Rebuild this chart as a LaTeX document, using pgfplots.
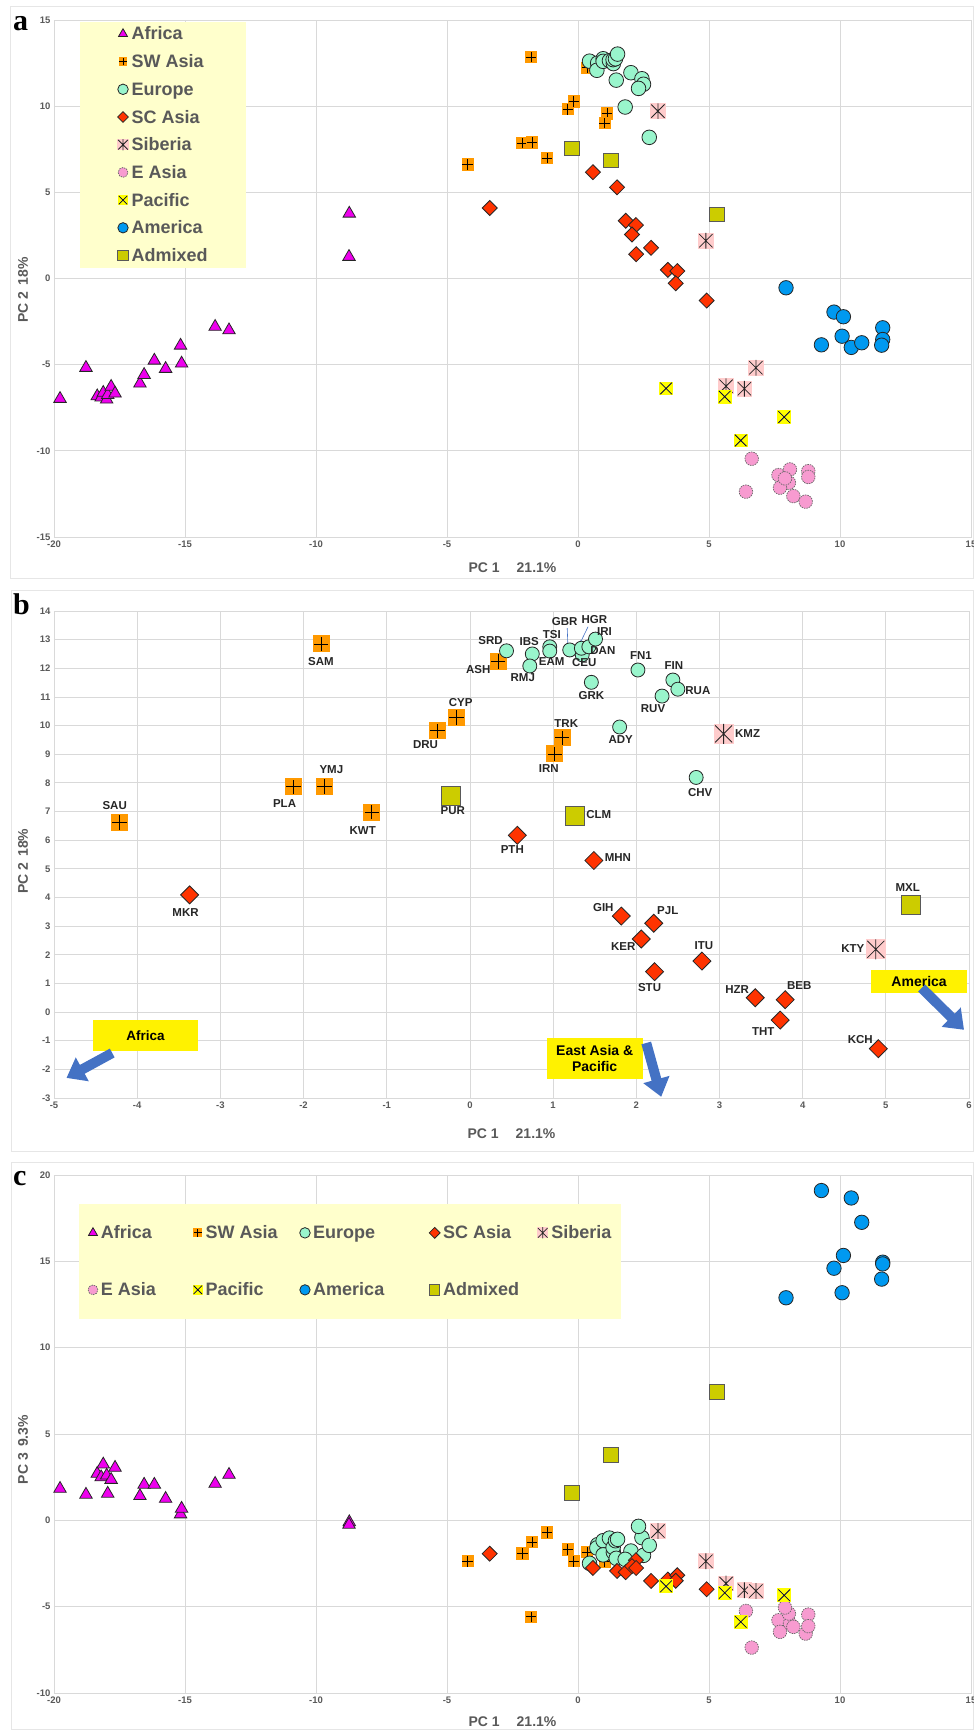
\documentclass[border=0pt]{standalone}
\usepackage{pgfplots}
\pgfplotsset{compat=1.18}
\usepackage{pgfplotstable}
\usepackage{fontspec}
\setmainfont{Liberation Sans}
\newfontfamily\serifbold{Liberation Serif}
\usetikzlibrary{arrows.meta}

\definecolor{cAfr}{HTML}{EE00EE}
\definecolor{cSWA}{HTML}{FF9900}
\definecolor{cEur}{HTML}{99F5CC}
\definecolor{cSCA}{HTML}{FF3300}
\definecolor{cSib}{HTML}{FFCCCC}
\definecolor{cEAs}{HTML}{F79BD0}
\definecolor{cPac}{HTML}{FFFF00}
\definecolor{cAme}{HTML}{0099F0}
\definecolor{cAdm}{HTML}{CCCC00}
\definecolor{cGrid}{HTML}{D9D9D9}
\definecolor{cText}{HTML}{595959}
\definecolor{cLeg}{HTML}{FFFFCC}
\definecolor{cArrow}{HTML}{4472C4}
\definecolor{cFrame}{HTML}{E6E6E6}

\pgfdeclareplotmark{sqplus}{%
  \pgfpathrectangle{\pgfqpoint{-\pgfplotmarksize}{-\pgfplotmarksize}}{\pgfqpoint{2\pgfplotmarksize}{2\pgfplotmarksize}}%
  \pgfusepathqfill
  \pgfpathmoveto{\pgfqpoint{-.85\pgfplotmarksize}{0pt}}%
  \pgfpathlineto{\pgfqpoint{.85\pgfplotmarksize}{0pt}}%
  \pgfpathmoveto{\pgfqpoint{0pt}{-.85\pgfplotmarksize}}%
  \pgfpathlineto{\pgfqpoint{0pt}{.85\pgfplotmarksize}}%
  \pgfusepathqstroke
}
\pgfdeclareplotmark{sqstar}{%
  \pgfpathrectangle{\pgfqpoint{-\pgfplotmarksize}{-\pgfplotmarksize}}{\pgfqpoint{2\pgfplotmarksize}{2\pgfplotmarksize}}%
  \pgfusepathqfill
  \pgfpathmoveto{\pgfqpoint{-.85\pgfplotmarksize}{-.85\pgfplotmarksize}}%
  \pgfpathlineto{\pgfqpoint{.85\pgfplotmarksize}{.85\pgfplotmarksize}}%
  \pgfpathmoveto{\pgfqpoint{-.85\pgfplotmarksize}{.85\pgfplotmarksize}}%
  \pgfpathlineto{\pgfqpoint{.85\pgfplotmarksize}{-.85\pgfplotmarksize}}%
  \pgfpathmoveto{\pgfqpoint{0pt}{-\pgfplotmarksize}}%
  \pgfpathlineto{\pgfqpoint{0pt}{\pgfplotmarksize}}%
  \pgfusepathqstroke
}
\pgfdeclareplotmark{sqx}{%
  \pgfpathrectangle{\pgfqpoint{-\pgfplotmarksize}{-\pgfplotmarksize}}{\pgfqpoint{2\pgfplotmarksize}{2\pgfplotmarksize}}%
  \pgfusepathqfill
  \pgfpathmoveto{\pgfqpoint{-.85\pgfplotmarksize}{-.85\pgfplotmarksize}}%
  \pgfpathlineto{\pgfqpoint{.85\pgfplotmarksize}{.85\pgfplotmarksize}}%
  \pgfpathmoveto{\pgfqpoint{-.85\pgfplotmarksize}{.85\pgfplotmarksize}}%
  \pgfpathlineto{\pgfqpoint{.85\pgfplotmarksize}{-.85\pgfplotmarksize}}%
  \pgfusepathqstroke
}
\pgfdeclareplotmark{rdiam}{%
  \pgfpathmoveto{\pgfqpoint{0pt}{\pgfplotmarksize}}%
  \pgfpathlineto{\pgfqpoint{\pgfplotmarksize}{0pt}}%
  \pgfpathlineto{\pgfqpoint{0pt}{-\pgfplotmarksize}}%
  \pgfpathlineto{\pgfqpoint{-\pgfplotmarksize}{0pt}}%
  \pgfpathclose
  \pgfusepathqfillstroke
}

\newcommand{\labfont}{\fontsize{14}{16}\selectfont\bfseries}

\pgfplotsset{
  pca/.style={scale only axis, grid=major,
    major grid style={draw=cGrid, line width=0.8pt},
    axis line style={draw=cGrid, line width=0.8pt},
    major tick length=0pt,
    tick label style={font=\fontsize{9.5}{11}\selectfont\bfseries, text=cText},
    /pgf/number format/assume math mode=true,
    legend cell align=left},
  gAfr/.style={only marks, mark=triangle*, mark size=#1, draw=black!85, fill=cAfr, line width=0.8pt},
  gSWA/.style={only marks, mark=sqplus, mark size=#1, draw=black, fill=cSWA, line width=0.8pt},
  gEur/.style={only marks, mark=*, mark size=#1, draw=black!85, fill=cEur, line width=0.8pt},
  gSCA/.style={only marks, mark=rdiam, mark size=#1, draw=black!85, fill=cSCA, line width=0.8pt},
  gSib/.style={only marks, mark=sqstar, mark size=#1, draw=black!85, fill=cSib, line width=0.8pt},
  gEAs/.style={only marks, mark=*, mark size=#1, draw=black!60, fill=cEAs, line width=0.7pt, dash pattern=on 1.5pt off 1pt},
  gPac/.style={only marks, mark=sqx, mark size=#1, draw=black!75!blue, fill=cPac, line width=0.8pt},
  gAme/.style={only marks, mark=*, mark size=#1, draw=black!85, fill=cAme, line width=0.8pt},
  gAdm/.style={only marks, mark=square*, mark size=#1, draw=black!65, fill=cAdm, line width=0.8pt},
  lab/.style={nodes near coords, point meta=explicit symbolic,
    visualization depends on={\thisrow{dx}\as\ldx},
    visualization depends on={\thisrow{dy}\as\ldy},
    every node near coord/.style={anchor=center, xshift=\ldx pt, yshift=\ldy pt,
      font=\fontsize{11.5}{13}\selectfont\bfseries, text=black!85, inner sep=0pt}},
}

% ---------- data: PC1, PC2, PC3 ----------
\pgfplotstableread{
x y2 y3
-19.77 -6.98 1.83
-18.78 -5.18 1.49
-18.35 -6.83 2.70
-18.20 -6.90 2.50
-18.12 -6.63 3.24
-17.99 -7.02 2.60
-17.95 -6.75 1.55
-17.82 -6.28 2.35
-17.67 -6.67 3.05
-16.72 -6.09 1.41
-16.56 -5.59 2.07
-16.17 -4.76 2.07
-15.74 -5.24 1.25
-15.17 -3.89 0.35
-15.13 -4.93 0.68
-13.85 -2.80 2.12
-13.32 -3.00 2.64
-8.73 3.77 -0.10
-8.74 1.26 -0.25
}\tAfr

\pgfplotstableread{
name x y2 y3 dx dy
SAU -4.21 6.62 -2.37 -5 17
SAM -1.79 12.85 -5.59 0 -18
PLA -2.12 7.86 -1.93 -9 -17
YMJ -1.75 7.88 -1.25 7 17
KWT -1.18 6.98 -0.71 -9 -18
DRU -0.39 9.82 -1.68 -12 -14
CYP -0.16 10.28 -2.37 4 15
ASH 0.34 12.23 -1.83 -20 -8
TRK 1.11 9.57 -2.10 4 14
IRN 1.02 9.01 -2.40 -6 -15
}\tSWA

\pgfplotstableread{
name x y2 y3 dx dy
SRD 0.44 12.61 -2.49 -16 10
IBS 0.75 12.50 -1.41 -3 12
RMJ 0.72 12.08 -1.60 -7 -12
TSI 0.96 12.75 -1.18 2 12
EAM 0.96 12.60 -2.00 2 -10
GBR 1.20 12.64 -1.03 -5 28
CEU 1.35 12.47 -1.85 2 -8
HGR 1.34 12.70 -1.57 13 29
DAN 1.43 12.75 -1.18 14 -4
IRI 1.51 13.02 -1.10 9 8
FN1 2.02 11.94 -1.78 3 14
FIN 2.44 11.59 -1.00 1 14
RUA 2.50 11.27 -2.03 20 -1
RUV 2.31 11.03 -0.35 -9 -13
GRK 1.46 11.51 -2.20 0 -13
ADY 1.80 9.95 -2.26 1 -13
CHV 2.72 8.19 -1.45 4 -15
}\tEur

\pgfplotstableread{
name x y2 y3 dx dy
MKR -3.37 4.09 -1.93 -4 -18
PTH 0.57 6.17 -2.76 -5 -14
MHN 1.49 5.29 -2.93 24 3
GIH 1.82 3.35 -3.00 -18 9
PJL 2.21 3.10 -2.31 14 13
KER 2.06 2.55 -2.65 -18 -8
STU 2.22 1.41 -2.76 -5 -16
ITU 2.79 1.78 -3.51 2 15
HZR 3.43 0.50 -3.43 -18 8
BEB 3.79 0.43 -3.18 14 14
THT 3.73 -0.28 -3.50 -17 -11
KCH 4.91 -1.28 -3.99 -18 9
}\tSCA

\pgfplotstableread{
name x y2 y3 dx dy
KMZ 3.05 9.71 -0.62 24 0
KTY 4.88 2.19 -2.37 -23 1
S1 5.65 -6.25 -3.66 0 0
S2 6.35 -6.40 -4.05 0 0
S3 6.79 -5.18 -4.09 0 0
}\tSib

\pgfplotstableread{
x y2 y3
6.63 -10.46 -7.37
6.41 -12.37 -5.25
7.65 -11.41 -5.79
8.09 -11.08 -5.98
8.05 -11.85 -5.40
7.71 -12.14 -6.46
8.22 -12.63 -6.17
8.69 -12.95 -6.56
8.79 -11.18 -5.46
8.79 -11.52 -6.13
7.90 -11.60 -5.05
}\tEAs

\pgfplotstableread{
x y2 y3
3.36 -6.38 -3.82
5.60 -6.86 -4.20
7.87 -8.04 -4.34
6.21 -9.40 -5.88
}\tPac

\pgfplotstableread{
x y2 y3
7.94 -0.54 12.89
9.29 -3.85 19.10
9.77 -1.95 14.60
10.13 -2.22 15.34
10.08 -3.35 13.18
10.43 -4.00 18.67
10.83 -3.73 17.26
11.63 -2.86 14.95
11.63 -3.54 14.85
11.59 -3.87 13.97
}\tAme

\pgfplotstableread{
name x y2 y3 dx dy
PUR -0.23 7.54 1.58 2 -15
CLM 1.26 6.84 3.80 24 2
MXL 5.30 3.73 7.43 -3 18
}\tAdm

\begin{document}
\begin{tikzpicture}[x=1pt, y=1pt]
% panel frames
\draw[cFrame, line width=0.8pt] (10,1152) rectangle (973,1724);
\draw[cFrame, line width=0.8pt] (11,579) rectangle (973,1140);
\draw[cFrame, line width=0.8pt] (11,1) rectangle (973,568);

% ================= panel a =================
\begin{axis}[pca, at={(54pt,1193pt)}, anchor=south west, width=917pt, height=517pt,
  xmin=-20, xmax=15, ymin=-15, ymax=15,
  xtick={-20,-15,...,15}, ytick={-15,-10,...,15},
  xlabel={PC 1\hspace{17pt}21.1\%}, ylabel={PC 2\hspace{6pt}18\%},
  every axis x label/.style={at={(axis description cs:0.5,-0.06)}, anchor=center, font=\labfont, text=cText},
  every axis y label/.style={at={(axis description cs:-0.0338,0.478)}, anchor=center, rotate=90, font=\labfont, text=cText},
  legend style={at={(axis cs:-19.0,14.9)}, anchor=north west, fill=cLeg, draw=none,
    font=\fontsize{18}{20}\selectfont\bfseries, text=cText,
    inner xsep=37pt, inner ysep=5pt, row sep=13.7pt, column sep=2pt,
    nodes={inner xsep=1pt, inner ysep=0pt, text height=13pt, text depth=1pt}},
  legend image post style={mark options={scale=0.72}},
]
\addplot[gAfr=7.2pt] table[x=x, y=y2]{\tAfr};
\addplot[gSWA=6.2pt] table[x=x, y=y2]{\tSWA};
\addplot[gEur=7.3pt] table[x=x, y=y2]{\tEur};
\addplot[gSCA=7.5pt] table[x=x, y=y2]{\tSCA};
\addplot[gSib=7.8pt] table[x=x, y=y2]{\tSib};
\addplot[gEAs=6.8pt] table[x=x, y=y2]{\tEAs};
\addplot[gPac=6.8pt] table[x=x, y=y2]{\tPac};
\addplot[gAme=7.2pt] table[x=x, y=y2]{\tAme};
\addplot[gAdm=7.2pt] table[x=x, y=y2]{\tAdm};
\legend{Africa,SW Asia,Europe,SC Asia,Siberia,E Asia,Pacific,America,Admixed}
\end{axis}

% ================= panel b =================
\begin{axis}[pca, at={(54pt,632pt)}, anchor=south west, width=915pt, height=487pt,
  xmin=-5, xmax=6, ymin=-3, ymax=14,
  xtick={-5,-4,...,6}, ytick={-3,-2,...,14},
  xlabel={PC 1\hspace{17pt}21.1\%}, ylabel={PC 2\hspace{6pt}18\%},
  every axis x label/.style={at={(axis description cs:0.5,-0.074)}, anchor=center, font=\labfont, text=cText},
  every axis y label/.style={at={(axis description cs:-0.0339,0.486)}, anchor=center, rotate=90, font=\labfont, text=cText},
]
\addplot[gSWA=8.5pt, lab] table[x=x, y=y2, meta=name]{\tSWA};
\addplot[gEur=7pt, lab] table[x=x, y=y2, meta=name]{\tEur};
\addplot[gSCA=9pt, lab] table[x=x, y=y2, meta=name]{\tSCA};
\addplot[gSib=10pt, lab, restrict y to domain=-3:14] table[x=x, y=y2, meta=name]{\tSib};
\addplot[gAdm=9.5pt, lab] table[x=x, y=y2, meta=name]{\tAdm};
% small pointer arrows
\draw[cArrow, line width=0.6pt, -{Stealth[length=4pt]}] (axis cs:1.17,13.40) -- (axis cs:1.18,12.62);
\draw[cArrow, line width=0.6pt, -{Stealth[length=4pt]}] (axis cs:1.42,13.45) -- (axis cs:1.32,12.85);
% annotation boxes
\node[fill=yellow, minimum width=105pt, minimum height=31pt, inner sep=0pt,
  font=\fontsize{13.5}{15}\selectfont\bfseries] at (axis cs:-3.90,-0.82) {Africa};
\node[fill=yellow, minimum width=96pt, minimum height=41pt, inner sep=0pt, align=center,
  font=\fontsize{14}{16}\selectfont\bfseries] at (axis cs:1.50,-1.62) {East Asia \&\\Pacific};
\node[fill=yellow, minimum width=96pt, minimum height=23pt, inner sep=0pt,
  font=\fontsize{14}{16}\selectfont\bfseries] at (axis cs:5.40,1.07) {America};
\draw[cArrow, line width=10pt, -{Triangle[width=26pt,length=18pt]}] (axis cs:-4.30,-1.43) -- (axis cs:-4.85,-2.30);
\draw[cArrow, line width=10pt, -{Triangle[width=26pt,length=18pt]}] (axis cs:2.12,-1.08) -- (axis cs:2.30,-2.96);
\draw[cArrow, line width=10pt, -{Triangle[width=26pt,length=18pt]}] (axis cs:5.43,0.84) -- (axis cs:5.94,-0.62);
\end{axis}

% ================= panel c =================
\begin{axis}[pca, at={(54pt,37pt)}, anchor=south west, width=917pt, height=518pt,
  xmin=-20, xmax=15, ymin=-10, ymax=20,
  xtick={-20,-15,...,15}, ytick={-10,-5,...,20},
  xlabel={PC 1\hspace{17pt}21.1\%}, ylabel={PC 3\hspace{6pt}9.3\%},
  every axis x label/.style={at={(axis description cs:0.5,-0.056)}, anchor=center, font=\labfont, text=cText},
  every axis y label/.style={at={(axis description cs:-0.0338,0.47)}, anchor=center, rotate=90, font=\labfont, text=cText},
  legend columns=5,
  legend style={at={(axis cs:-19.05,18.34)}, anchor=north west, fill=cLeg, draw=none,
    font=\fontsize{18}{20}\selectfont\bfseries, text=cText,
    inner xsep=9pt, inner ysep=22pt, row sep=43pt, column sep=2pt,
    /tikz/column 2/.style={column sep=36pt},
    /tikz/column 4/.style={column sep=21pt},
    /tikz/column 6/.style={column sep=44pt},
    /tikz/column 8/.style={column sep=17pt},
    nodes={inner xsep=1pt, inner ysep=0pt, text height=13pt, text depth=1pt}},
  legend image post style={mark options={scale=0.72}},
]
\addplot[gAfr=7.2pt] table[x=x, y=y3]{\tAfr};
\addplot[gSWA=6.2pt] table[x=x, y=y3]{\tSWA};
\addplot[gEur=7.3pt] table[x=x, y=y3]{\tEur};
\addplot[gSCA=7.5pt] table[x=x, y=y3]{\tSCA};
\addplot[gSib=7.8pt] table[x=x, y=y3]{\tSib};
\addplot[gEAs=6.8pt] table[x=x, y=y3]{\tEAs};
\addplot[gPac=6.8pt] table[x=x, y=y3]{\tPac};
\addplot[gAme=7.2pt] table[x=x, y=y3]{\tAme};
\addplot[gAdm=7.2pt] table[x=x, y=y3]{\tAdm};
\legend{Africa,SW Asia,Europe,SC Asia,Siberia,E Asia,Pacific,America,Admixed}
\end{axis}

% panel letters
\node[anchor=base west, inner sep=0pt, font=\serifbold\fontsize{30}{32}\selectfont\bfseries] at (13,1699) {a};
\node[anchor=base west, inner sep=0pt, font=\serifbold\fontsize{30}{32}\selectfont\bfseries] at (13,1115) {b};
\node[anchor=base west, inner sep=0pt, font=\serifbold\fontsize{30}{32}\selectfont\bfseries] at (13,544) {c};

\pgfresetboundingbox
\useasboundingbox (0,0) rectangle (974,1730);
\end{tikzpicture}
\end{document}
